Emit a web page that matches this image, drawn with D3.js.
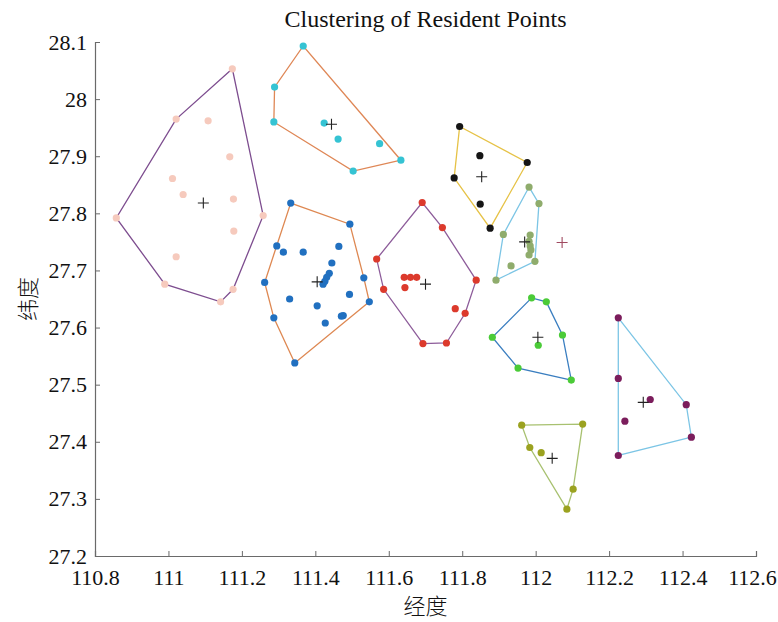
<!DOCTYPE html>
<html>
<head>
<meta charset="utf-8">
<script src="https://cdn.jsdelivr.net/npm/d3@7"></script>
<style>
  body { margin: 0; background: #fff; }
  svg text { font-family: "Liberation Serif", "Times New Roman", serif; fill: #111; }
</style>
</head>
<body>
<div id="chart"></div>
<script>
// ---- data (lon, lat) ----
var pinkPts = [[110.858,27.792],[111.021,27.965],[111.174,28.053],[111.108,27.962],[111.167,27.899],
  [111.011,27.861],[111.040,27.833],[111.177,27.825],[111.258,27.796],[111.178,27.769],
  [111.021,27.724],[110.990,27.676],[111.176,27.667],[111.142,27.645]];
var cyanPts = [[111.367,28.093],[111.289,28.021],[111.287,27.960],[111.424,27.958],[111.462,27.930],
  [111.575,27.922],[111.633,27.893],[111.503,27.874]];
var bluePts = [[111.333,27.818],[111.494,27.781],[111.295,27.743],[111.313,27.732],[111.367,27.732],
  [111.464,27.742],[111.445,27.713],[111.438,27.695],[111.431,27.688],[111.426,27.681],
  [111.421,27.676],[111.262,27.679],[111.532,27.687],[111.330,27.650],[111.493,27.658],
  [111.405,27.638],[111.547,27.645],[111.287,27.617],[111.471,27.620],[111.476,27.621],
  [111.427,27.608],[111.344,27.538]];
var redPts = [[111.691,27.819],[111.746,27.775],[111.567,27.720],[111.642,27.688],[111.659,27.688],
  [111.676,27.688],[111.644,27.670],[111.838,27.683],[111.586,27.667],[111.781,27.633],
  [111.808,27.625],[111.693,27.572],[111.757,27.573]];
var blackPts = [[111.793,27.952],[111.848,27.901],[111.977,27.889],[111.778,27.862],
  [111.849,27.816],[111.876,27.774]];
var sagePts = [[111.982,27.846],[112.009,27.817],[111.912,27.763],[111.985,27.762],[111.982,27.751],
  [111.985,27.743],[111.987,27.736],[111.982,27.727],[111.998,27.716],[111.933,27.708],
  [111.892,27.683]];
var loneCenter = [112.072, 27.749];
var greenPts = [[111.989,27.652],[112.029,27.645],[111.882,27.583],[112.073,27.587],[112.007,27.569],
  [111.952,27.529],[112.097,27.508]];
var olivePts = [[111.962,27.429],[112.128,27.431],[111.984,27.390],[112.015,27.381],
  [112.102,27.317],[112.085,27.282]];
var maroonPts = [[112.225,27.617],[112.225,27.511],[112.312,27.474],[112.243,27.436],
  [112.410,27.465],[112.424,27.408],[112.225,27.376]];

var centers = [[111.095,27.818],[111.444,27.956],[111.405,27.680],[111.700,27.676],[111.853,27.864],
  [111.970,27.750],[112.006,27.583],[112.045,27.371],[112.293,27.469]];

var xTicks = [110.8,111,111.2,111.4,111.6,111.8,112,112.2,112.4,112.6];
var yTicks = [27.2,27.3,27.4,27.5,27.6,27.7,27.8,27.9,28,28.1];

// ---- styles ----
var clusters = [
  { pts: pinkPts,   fill: '#f6cabd', line: '#7d4d8f' },
  { pts: cyanPts,   fill: '#35c3d3', line: '#df8756' },
  { pts: bluePts,   fill: '#2170c0', line: '#de8852' },
  { pts: redPts,    fill: '#dc3a2c', line: '#8d5c9a' },
  { pts: blackPts,  fill: '#151515', line: '#e6c246' },
  { pts: sagePts,   fill: '#8fac6c', line: '#7cc5e5' },
  { pts: greenPts,  fill: '#4bcb38', line: '#3a7ec0' },
  { pts: olivePts,  fill: '#9ba220', line: '#a8c170' },
  { pts: maroonPts, fill: '#7b1d5c', line: '#7cc5e5' }
];

var W = 778, H = 622;
var margin = { left: 95, right: 22, top: 42, bottom: 66 };

var svg = d3.select('#chart').append('svg')
    .attr('width', W).attr('height', H);

var x = d3.scaleLinear().domain([110.8, 112.6]).range([margin.left, W - margin.right]);
var y = d3.scaleLinear().domain([27.2, 28.1]).range([H - margin.bottom, margin.top]);

// axes (box off, ticks inward)
var xAxis = svg.append('g')
    .attr('transform', 'translate(0,' + (H - margin.bottom) + ')')
    .call(d3.axisBottom(x).tickValues(xTicks).tickSize(-5).tickPadding(13).tickFormat(d3.format('')));
var yAxis = svg.append('g')
    .attr('transform', 'translate(' + margin.left + ',0)')
    .call(d3.axisLeft(y).tickValues(yTicks).tickSize(-5).tickPadding(8).tickFormat(d3.format('')));

[xAxis, yAxis].forEach(function (g) {
    g.attr('font-family', '"Liberation Serif", serif').attr('font-size', 22);
    g.select('.domain').attr('stroke', '#6a6a6a').attr('stroke-width', 1.2);
    g.selectAll('.tick line').attr('stroke', '#6a6a6a');
    g.selectAll('.tick text')
        .style('font-family', '"Liberation Serif", serif')
        .style('font-size', '22px')
        .attr('fill', '#111');
});
// keep the last x label inside the window
xAxis.selectAll('.tick text').filter(function (d) { return d === 112.6; }).attr('dx', -4);

var plot = svg.append('g');
var line = d3.line().x(function (d) { return x(d[0]); }).y(function (d) { return y(d[1]); });

clusters.forEach(function (c) {
    var hull = d3.polygonHull(c.pts);
    plot.append('path')
        .attr('d', line(hull) + 'Z')
        .attr('fill', 'none')
        .attr('stroke', c.line)
        .attr('stroke-width', 1.3);
});

clusters.forEach(function (c) {
    plot.selectAll(null).data(c.pts).enter().append('circle')
        .attr('cx', function (d) { return x(d[0]); })
        .attr('cy', function (d) { return y(d[1]); })
        .attr('r', 3.6)
        .attr('fill', c.fill);
});

function plus(g, d, color) {
    var cx = x(d[0]), cy = y(d[1]), s = 5.5;
    g.append('path')
        .attr('d', 'M' + (cx - s) + ',' + cy + 'H' + (cx + s) + 'M' + cx + ',' + (cy - s) + 'V' + (cy + s))
        .attr('stroke', color).attr('stroke-width', 1.1).attr('fill', 'none');
}
centers.forEach(function (d) { plus(plot, d, '#222'); });
plus(plot, loneCenter, '#a04a60');

// title and labels
var midX = (margin.left + W - margin.right) / 2;
svg.append('text')
    .attr('x', midX).attr('y', 27)
    .attr('text-anchor', 'middle')
    .style('font-size', '24px')
    .text('Clustering of Resident Points');

svg.append('text')
    .attr('x', midX).attr('y', 614)
    .attr('text-anchor', 'middle')
    .style('font-size', '22px')
    .style('font-family', '"Noto Sans CJK SC", sans-serif')
    .style('font-weight', 300)
    .attr('fill', '#333')
    .text('经度');

svg.append('text')
    .attr('transform', 'translate(36,' + ((margin.top + H - margin.bottom) / 2) + ') rotate(-90)')
    .attr('text-anchor', 'middle')
    .style('font-size', '22px')
    .style('font-family', '"Noto Sans CJK SC", sans-serif')
    .style('font-weight', 300)
    .attr('fill', '#333')
    .text('纬度');
</script>
</body>
</html>
